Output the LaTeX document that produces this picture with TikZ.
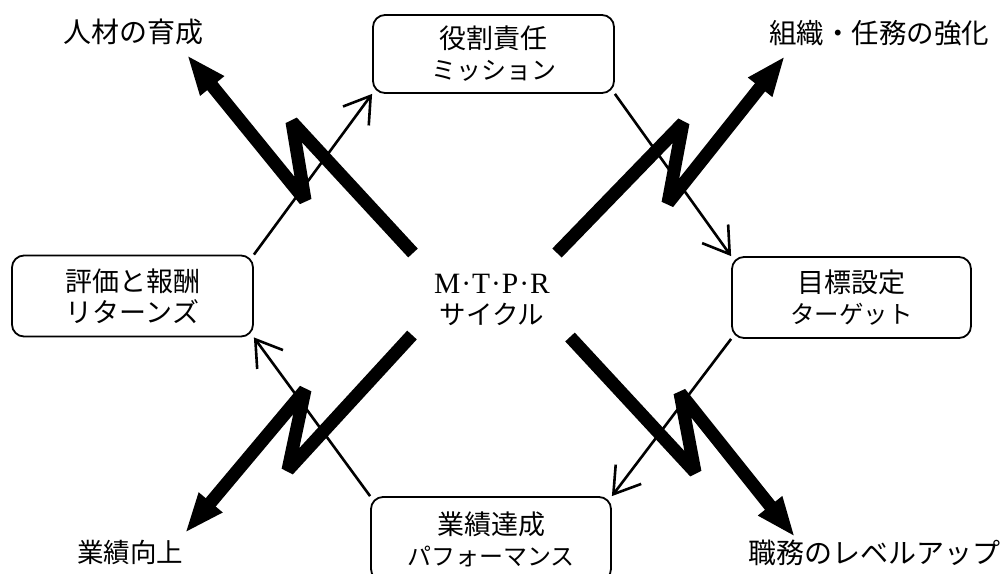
\documentclass[tikz,border=0pt]{standalone}
\usepackage{fontspec}
\setmainfont{Liberation Serif}
\newfontfamily\jp{Noto Sans CJK JP}
\usetikzlibrary{arrows.meta}
\begin{document}
\begin{tikzpicture}[x=1pt,y=-1pt,
  box/.style={draw, line width=1.8pt, rounded corners=12pt, minimum width=241pt, minimum height=81pt, align=center, inner sep=0pt, font=\jp\fontsize{27}{31}\selectfont},
  link/.style={line width=2.6pt, -{Straight Barb[length=25pt,width=32pt]}},
  bolt/.style={line width=13pt, line join=bevel, -{Triangle[length=40pt,width=28pt]}},
  lab/.style={inner sep=0pt, font=\jp\fontsize{28}{30}\selectfont}
]
\useasboundingbox (0,0) rectangle (1003,573);
\clip (0,0) rectangle (1003,573);

% boxes
\node[box, minimum height=78pt] (top) at (493.5,54) {役割責任\\{\fontsize{25}{31}\selectfont ミッション}};
\node[box] (left) at (132.5,296) {評価と報酬\\{\fontsize{27}{31}\selectfont リターンズ}};
\node[box, minimum width=239pt] (right) at (851.5,297.5) {目標設定\\{\fontsize{24.5}{31}\selectfont ターゲット}};
\node[box, minimum width=240pt, minimum height=84pt] (bottom) at (491,539) {業績達成\\{\fontsize{24}{31}\selectfont パフォーマンス}};

% centre
\node[align=center, inner sep=0pt, font=\fontsize{29.5}{31}\selectfont] (centre) at (492,300)
  {M\kern1pt·\kern1ptT\kern1pt·\kern1ptP\kern1pt·\kern1ptR\\{\jp\fontsize{26.5}{31}\selectfont サイクル}};

% corner labels
\node[lab] (hr) at (133,32) {人材の育成};
\node[lab, font=\jp\fontsize{27.5}{30}\selectfont] (org) at (879,33) {組織・任務の強化};
\node[lab, font=\jp\fontsize{26.5}{30}\selectfont] (perf) at (130,552) {業績向上};
\node[lab] (job) at (874,553) {職務のレベルアップ};

% lightning arrows
\coordinate (ulS) at (413,253); \coordinate (ulA) at (292,122);
\coordinate (ulB) at (305,200); \coordinate (ulT) at (187,55);
\draw[bolt] (ulS) -- (ulA) -- (ulB) -- (ulT);

\coordinate (urS) at (557,253); \coordinate (urA) at (683,123);
\coordinate (urB) at (668,203); \coordinate (urT) at (785,56);
\draw[bolt] (urS) -- (urA) -- (urB) -- (urT);

\coordinate (llS) at (412,335); \coordinate (llA) at (288,470);
\coordinate (llB) at (305,390); \coordinate (llT) at (185,533);
\draw[bolt] (llS) -- (llA) -- (llB) -- (llT);

\coordinate (lrS) at (570,337); \coordinate (lrA) at (695,472);
\coordinate (lrB) at (680,393); \coordinate (lrT) at (795,537);
\draw[bolt] (lrS) -- (lrA) -- (lrB) -- (lrT);

% cycle arrows
\draw[link] (left.north east) -- (top.south west);
\draw[link] (top.south east) -- (right.north west);
\draw[link] (right.south west) -- (bottom.north east);
\draw[link] (bottom.north west) -- (left.south east);
\end{tikzpicture}
\end{document}
